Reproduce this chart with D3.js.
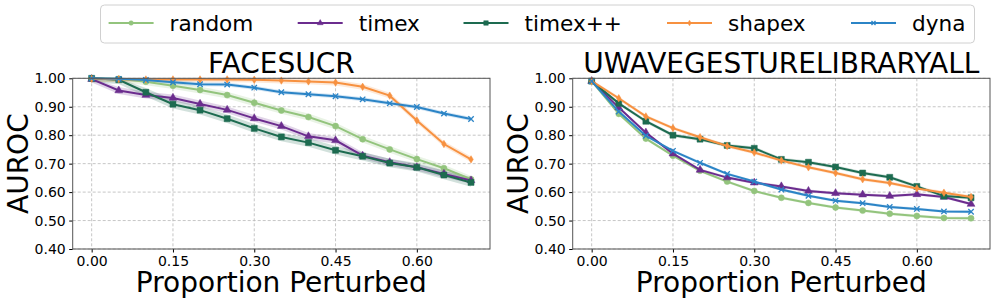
<!DOCTYPE html>
<html>
<head>
<meta charset="utf-8">
<script src="https://cdn.jsdelivr.net/npm/d3@7"></script>
<style>
  body { margin: 0; background: #fff; }
  svg { font-family: "DejaVu Sans", sans-serif; display: block; }
</style>
</head>
<body>
<div id="chart"></div>
<script>
// x positions (proportion perturbed)
const steps = [0.00, 0.05, 0.10, 0.15, 0.20, 0.25, 0.30, 0.35, 0.40, 0.45, 0.50, 0.55, 0.60, 0.65, 0.70];
const methods = ["random", "timex", "timex++", "shapex", "dyna"];
const xTicks = [0.00, 0.15, 0.30, 0.45, 0.60];
const yTicks = [0.40, 0.50, 0.60, 0.70, 0.80, 0.90, 1.00];

// FACESUCR
const faceRandom = [1.000, 0.998, 0.988, 0.974, 0.959, 0.941, 0.914, 0.887, 0.864, 0.832, 0.786, 0.750, 0.716, 0.684, 0.645];
const faceTimex = [0.997, 0.957, 0.941, 0.931, 0.910, 0.889, 0.859, 0.832, 0.796, 0.782, 0.728, 0.705, 0.687, 0.664, 0.641];
const faceTimexPP = [1.000, 0.995, 0.951, 0.909, 0.888, 0.858, 0.824, 0.794, 0.774, 0.747, 0.726, 0.702, 0.687, 0.660, 0.634];
const faceShapex = [0.998, 0.997, 0.996, 0.996, 0.996, 0.996, 0.995, 0.992, 0.989, 0.985, 0.970, 0.939, 0.852, 0.769, 0.715];
const faceDyna = [1.000, 0.998, 0.994, 0.986, 0.979, 0.978, 0.967, 0.951, 0.944, 0.937, 0.926, 0.912, 0.899, 0.876, 0.857];
const faceSpread = [0.012, 0.012, 0.015, 0.010, 0.007];

// UWAVEGESTURELIBRARYALL
const uwaveRandom = [0.990, 0.875, 0.788, 0.728, 0.675, 0.637, 0.604, 0.580, 0.562, 0.546, 0.535, 0.524, 0.516, 0.509, 0.508];
const uwaveTimex = [0.990, 0.897, 0.809, 0.735, 0.678, 0.651, 0.633, 0.620, 0.604, 0.596, 0.591, 0.586, 0.592, 0.583, 0.558];
const uwaveTimexPP = [0.990, 0.912, 0.849, 0.800, 0.786, 0.764, 0.754, 0.715, 0.705, 0.688, 0.667, 0.652, 0.620, 0.586, 0.580];
const uwaveShapex = [0.990, 0.930, 0.866, 0.825, 0.793, 0.762, 0.739, 0.711, 0.687, 0.667, 0.645, 0.632, 0.613, 0.598, 0.583];
const uwaveDyna = [0.990, 0.883, 0.798, 0.745, 0.703, 0.664, 0.637, 0.609, 0.587, 0.570, 0.561, 0.548, 0.541, 0.532, 0.531];
const uwaveSpread = [0.005, 0.005, 0.006, 0.006, 0.005];

const colors = ["#93c47d", "#6b2c8e", "#1d6b50", "#f79140", "#2b84c6"];
const markers = ["circle", "triangle", "square", "diamond", "x"];

const W = 996, H = 304;
const svg = d3.select("#chart").append("svg").attr("width", W).attr("height", H);

// marker paths
function markerPath(type, s) {
	if (type === "circle") return d3.symbol(d3.symbolCircle, s * s * 0.8)();
	if (type === "triangle") return d3.symbol(d3.symbolTriangle, s * s * 0.75)();
	if (type === "square") return d3.symbol(d3.symbolSquare, s * s)();
	if (type === "diamond") { const w = s * 0.38, h = s * 0.62; return `M0,${-h}L${w},0L0,${h}L${-w},0Z`; }
	const h = s * 0.45;
	return `M${-h},${-h}L${h},${h}M${-h},${h}L${h},${-h}`;
}

function drawMarker(g, type, color, x, y, s) {
	const p = g.append("path").attr("d", markerPath(type, s)).attr("transform", `translate(${x},${y})`);
	if (type === "x") p.attr("fill", "none").attr("stroke", color).attr("stroke-width", 1.3);
	else p.attr("fill", color).attr("stroke", color).attr("stroke-width", 0.5);
}

function drawPanel({ left, right, top, bottom, title, series, spread, labelX }) {
	const x = d3.scaleLinear().domain([-0.035, 0.735]).range([left, right]);
	const y = d3.scaleLinear().domain([0.4, 1.0]).range([bottom, top]);
	const g = svg.append("g");

	// grid
	g.selectAll(".gx").data(xTicks).enter().append("line")
		.attr("x1", d => x(d)).attr("x2", d => x(d)).attr("y1", top).attr("y2", bottom)
		.attr("stroke", "#b8b8b8").attr("stroke-width", 0.8).attr("stroke-dasharray", "3,2");
	g.selectAll(".gy").data(yTicks).enter().append("line")
		.attr("x1", left).attr("x2", right).attr("y1", d => y(d)).attr("y2", d => y(d))
		.attr("stroke", "#b8b8b8").attr("stroke-width", 0.8).attr("stroke-dasharray", "3,2");

	// bands, then lines + markers
	const area = d3.area().x((d, i) => x(steps[i]));
	const line = d3.line().x((d, i) => x(steps[i])).y(d => y(d));
	series.forEach((vals, k) => {
		g.append("path").datum(vals)
			.attr("d", area.y0(d => y(d - spread[k])).y1(d => y(Math.min(d + spread[k], 1.0))))
			.attr("fill", colors[k]).attr("opacity", 0.2);
	});
	series.forEach((vals, k) => {
		g.append("path").datum(vals).attr("d", line)
			.attr("fill", "none").attr("stroke", colors[k]).attr("stroke-width", 2);
		vals.forEach((v, i) => drawMarker(g, markers[k], colors[k], x(steps[i]), y(v), 6));
	});

	// axes
	g.append("g").attr("transform", `translate(0,${bottom})`)
		.call(d3.axisBottom(x).tickValues(xTicks).tickFormat(d3.format(".2f")).tickSize(3.5).tickPadding(3.5))
		.call(a => a.select(".domain").remove())
		.selectAll("text").attr("font-size", 14).attr("fill", "#000").attr("font-family", "DejaVu Sans");
	g.append("g").attr("transform", `translate(${left},0)`)
		.call(d3.axisLeft(y).tickValues(yTicks).tickFormat(d3.format(".2f")).tickSize(3.5).tickPadding(3.5))
		.call(a => a.select(".domain").remove())
		.selectAll("text").attr("font-size", 14).attr("fill", "#000").attr("font-family", "DejaVu Sans");

	g.append("rect").attr("x", left).attr("y", top).attr("width", right - left).attr("height", bottom - top)
		.attr("fill", "none").attr("stroke", "#555").attr("stroke-width", 1);

	g.append("text").attr("x", (left + right) / 2).attr("y", top - 5)
		.attr("text-anchor", "middle").attr("font-size", 28).text(title);
	g.append("text").attr("x", (left + right) / 2).attr("y", 292)
		.attr("text-anchor", "middle").attr("font-size", 28).text("Proportion Perturbed");
	g.append("text").attr("transform", `translate(${labelX},${(top + bottom) / 2}) rotate(-90)`)
		.attr("text-anchor", "middle").attr("font-size", 28).text("AUROC");
}

drawPanel({
	left: 72.7, right: 490, top: 78.3, bottom: 249, title: "FACESUCR", labelX: 28,
	series: [faceRandom, faceTimex, faceTimexPP, faceShapex, faceDyna], spread: faceSpread
});
drawPanel({
	left: 572.7, right: 990, top: 78.3, bottom: 249, title: "UWAVEGESTURELIBRARYALL", labelX: 528,
	series: [uwaveRandom, uwaveTimex, uwaveTimexPP, uwaveShapex, uwaveDyna], spread: uwaveSpread
});

// legend
const legend = svg.append("g");
legend.append("rect").attr("x", 100.5).attr("y", 5).attr("width", 874).attr("height", 38).attr("rx", 4)
	.attr("fill", "#fff").attr("stroke", "#d0d0d0");
const legendX = [108.6, 297.7, 463.5, 667, 851];
methods.forEach((m, k) => {
	const lx = legendX[k];
	legend.append("line").attr("x1", lx).attr("x2", lx + 45).attr("y1", 23).attr("y2", 23)
		.attr("stroke", colors[k]).attr("stroke-width", 2);
	drawMarker(legend, markers[k], colors[k], lx + 22.5, 23, 4.5);
	legend.append("text").attr("x", lx + 61).attr("y", 30.5).attr("font-size", 21.6).text(m);
});
</script>
</body>
</html>
